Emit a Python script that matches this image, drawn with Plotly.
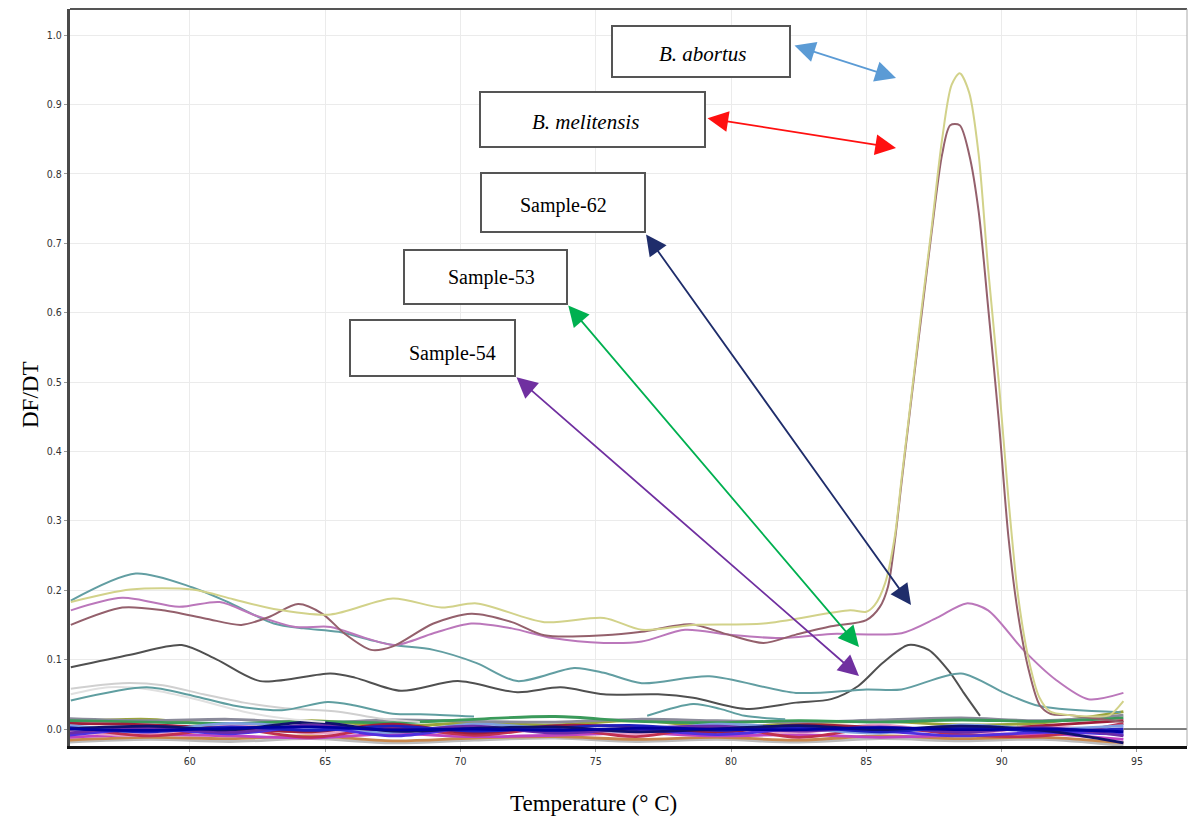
import plotly.graph_objects as go

# ---------------- data ----------------
abortus_t = [55.6, 57.8, 60.1, 61.6, 63.1, 65.2, 67.5, 69.3, 70.6, 73.1, 75.3, 76.7, 78.6, 81.2, 84.4, 85.0,
             85.3, 85.7, 86.05, 86.3, 86.55, 86.8, 87.05, 87.4, 87.8, 88.15, 88.45, 88.8, 89.15, 89.5, 89.9,
             90.25, 90.6, 91.0, 91.4, 91.8, 92.5, 93.5, 94.0, 94.5]
abortus_v = [0.183, 0.201, 0.201, 0.187, 0.173, 0.165, 0.188, 0.175, 0.181, 0.154, 0.160, 0.143, 0.150, 0.152, 0.171, 0.169,
             0.178, 0.211, 0.277, 0.360, 0.442, 0.525, 0.608, 0.718, 0.850, 0.928, 0.945, 0.917, 0.828, 0.663, 0.498,
             0.332, 0.194, 0.100, 0.045, 0.025, 0.020, 0.018, 0.020, 0.040]

meli_t = [55.6, 57.5, 59.0, 60.6, 61.9, 62.9, 64.0, 64.9, 65.7, 66.7, 67.5, 69.0, 70.4, 71.9, 73.1, 75.3, 76.7,
          78.5, 79.9, 81.2, 82.4, 83.7, 85.0, 85.5, 85.8, 86.05, 86.3, 86.55, 86.8, 87.05, 87.4, 87.8, 88.1,
          88.45, 88.8, 89.15, 89.5, 89.9, 90.25, 90.6, 91.0, 91.4, 91.8, 92.5, 93.5, 94.5]
meli_v = [0.150, 0.175, 0.171, 0.159, 0.150, 0.161, 0.180, 0.166, 0.138, 0.114, 0.119, 0.152, 0.166, 0.154, 0.135, 0.135, 0.140,
          0.151, 0.136, 0.124, 0.136, 0.148, 0.157, 0.176, 0.205, 0.270, 0.355, 0.438, 0.520, 0.600, 0.712, 0.828, 0.870,
          0.870, 0.828, 0.746, 0.608, 0.442, 0.277, 0.167, 0.085, 0.035, 0.022, 0.020, 0.015, 0.010]

s62_t = [55.6, 57.5, 59.6, 61.1, 62.4, 63.9, 65.2, 66.5, 67.6, 69.0, 70.4, 71.9, 73.4, 75.3, 76.7, 78.3, 79.9,
         81.8, 83.7, 86.3, 87.6, 88.7, 89.5, 90.8, 92.0, 93.2, 94.5]
s62_v = [0.171, 0.189, 0.176, 0.183, 0.164, 0.147, 0.147, 0.131, 0.121, 0.138, 0.152, 0.145, 0.131, 0.124, 0.126, 0.143, 0.136,
         0.131, 0.137, 0.138, 0.160, 0.181, 0.171, 0.114, 0.071, 0.043, 0.052]

teal_t = [55.6, 58.0, 60.1, 61.4, 63.1, 64.2, 65.5, 66.7, 67.5, 69.0, 70.6, 72.1, 74.2, 75.3, 76.7, 79.2, 82.4,
          85.0, 86.3, 88.5, 90.1, 91.4, 94.4]
teal_v = [0.185, 0.224, 0.204, 0.183, 0.152, 0.145, 0.140, 0.128, 0.121, 0.114, 0.095, 0.069, 0.088, 0.081, 0.066, 0.076, 0.052,
          0.057, 0.057, 0.080, 0.052, 0.033, 0.024]

dark_t = [55.6, 57.8, 59.7, 61.0, 62.6, 65.2, 66.1, 67.8, 69.9, 72.1, 73.7, 75.3, 77.3, 78.6, 80.5, 82.4, 83.7,
          84.7, 85.6, 86.55, 87.3, 88.1, 88.6, 89.2]
dark_v = [0.089, 0.107, 0.121, 0.100, 0.069, 0.080, 0.074, 0.055, 0.069, 0.053, 0.060, 0.050, 0.050, 0.045, 0.029, 0.038, 0.043,
          0.062, 0.095, 0.121, 0.114, 0.081, 0.052, 0.019]

teal2_t = [55.6, 58.4, 60.1, 61.6, 63.4, 65.1, 66.1, 67.5, 68.8, 70.5]
teal2_v = [0.041, 0.060, 0.048, 0.034, 0.027, 0.039, 0.034, 0.022, 0.021, 0.018]

teal3_t = [76.9, 78.6, 79.6, 80.5, 82.0]
teal3_v = [0.019, 0.036, 0.029, 0.019, 0.014]

lgray1_t = [55.6, 57.5, 59.0, 60.5, 62.0, 63.5, 65.5, 67.0, 68.5]
lgray1_v = [0.058, 0.066, 0.063, 0.050, 0.038, 0.030, 0.025, 0.015, 0.010]
lgray2_t = [55.6, 57.0, 58.5, 60.0, 62.0, 63.5, 65.0]
lgray2_v = [0.050, 0.060, 0.057, 0.045, 0.025, 0.015, 0.010]

noise_t = [55.5, 58.5, 61.5, 64.5, 67.5, 70.5, 73.5, 76.5, 79.5, 82.5, 85.5, 88.5, 91.5, 94.5]
noise_series = {
    "#bbbbbb": [-0.019, -0.015, -0.018, -0.014, -0.020, -0.016, -0.013, -0.018, -0.015, -0.019, -0.014, -0.017, -0.015, -0.024],
    "#c8864a": [-0.016, -0.012, -0.014, -0.010, -0.017, -0.013, -0.011, -0.015, -0.012, -0.016, -0.010, -0.014, -0.012, -0.020],
    "#c044c0": [-0.012, -0.008, -0.010, -0.013, -0.007, -0.011, -0.009, -0.006, -0.010, -0.008, -0.012, -0.009, -0.007, -0.015],
    "#9aa43a": [0.010, 0.014, 0.005, 0.012, 0.004, 0.009, 0.006, 0.012, 0.003, 0.008, 0.011, 0.006, 0.009, 0.025],
    "#8a8a9a": [0.015, 0.012, 0.014, 0.009, 0.013, 0.011, 0.010, 0.014, 0.012, 0.010, 0.013, 0.016, 0.012, 0.020],
    "#3a9a5a": [0.012, 0.010, 0.008, 0.011, 0.009, 0.014, 0.018, 0.011, 0.009, 0.012, 0.010, 0.013, 0.011, 0.016],
    "#e8a0c8": [-0.003, -0.009, 0.006, -0.006, 0.000, -0.008, 0.004, -0.007, 0.002, -0.005, 0.006, -0.007, 0.003, -0.004],
    "#c03050": [0.004, -0.010, 0.000, -0.012, 0.002, -0.009, 0.001, -0.011, 0.004, -0.012, 0.002, -0.008, -0.010, 0.008],
    "#9e1f3a": [0.008, 0.006, 0.001, -0.004, 0.007, -0.006, 0.005, 0.003, -0.005, 0.006, 0.002, -0.003, 0.005, 0.012],
    "#7f9fdf": [0.005, -0.002, 0.008, 0.002, -0.005, 0.007, 0.000, -0.003, 0.007, 0.001, -0.006, 0.006, 0.000, 0.005],
    "#5030e0": [-0.009, 0.000, -0.007, 0.003, -0.010, 0.002, -0.004, -0.001, -0.008, 0.000, -0.003, -0.010, -0.005, -0.008],
    "#6a2ca8": [-0.006, 0.002, -0.005, 0.006, -0.002, 0.004, -0.006, 0.001, 0.004, -0.003, 0.003, -0.005, 0.002, -0.010],
    "#1f1fbf": [0.002, -0.004, 0.003, -0.002, 0.004, -0.003, 0.002, 0.005, -0.002, 0.003, -0.004, 0.002, -0.003, 0.000],
    "#10106e": [0.000, 0.004, -0.001, 0.010, -0.003, 0.001, 0.003, -0.004, 0.000, 0.005, -0.001, 0.004, -0.002, -0.020],
    "#0000a0": [0.000, -0.002, 0.001, 0.003, -0.001, 0.000, -0.002, 0.001, 0.000, -0.001, 0.002, -0.001, 0.000, -0.004],
}

baseline_t = [94.5, 96.85]
baseline_v = [0.0, 0.0]

x_ticks = [60, 65, 70, 75, 80, 85, 90, 95]
y_ticks = [0.0, 0.1, 0.2, 0.3, 0.4, 0.5, 0.6, 0.7, 0.8, 0.9, 1.0]

labels = ["B. abortus", "B. melitensis", "Sample-62", "Sample-53", "Sample-54"]

# ---------------- figure ----------------
# page body has an 8px default margin, so the figure is offset by (8, 8)
OFF = 8
W, H = 1198 - OFF, 823 - OFF
L, R, T, B = 70, 1187, 9, 746   # plot area in page pixels


def px(xp):
    return (xp - L) / (R - L)


def py(yp):
    return (B - yp) / (B - T)


fig = go.Figure()

for col, vals in noise_series.items():
    fig.add_trace(go.Scatter(x=noise_t, y=vals, mode="lines",
                             line=dict(color=col, width=2.8, shape="spline", smoothing=1.0),
                             hoverinfo="skip", showlegend=False))

curves = [
    (lgray1_t, lgray1_v, "#d0d0d0"),
    (lgray2_t, lgray2_v, "#e0e0e0"),
    (teal2_t, teal2_v, "#5f9ea0"),
    (teal3_t, teal3_v, "#5f9ea0"),
    (dark_t, dark_v, "#505050"),
    (teal_t, teal_v, "#629ea2"),
    (s62_t, s62_v, "#bb77bb"),
    (meli_t, meli_v, "#94606c"),
    (abortus_t, abortus_v, "#d2d28a"),
]
for xs, ys, col in curves:
    fig.add_trace(go.Scatter(x=xs, y=ys, mode="lines",
                             line=dict(color=col, width=2, shape="spline", smoothing=0.8),
                             hoverinfo="skip", showlegend=False))

fig.add_trace(go.Scatter(x=baseline_t, y=baseline_v, mode="lines",
                         line=dict(color="#555555", width=1.5), hoverinfo="skip", showlegend=False))

tickfont = dict(family="DejaVu Sans Condensed, DejaVu Sans", size=10.5, color="#333333")
fig.update_layout(
    width=W, height=H,
    margin=dict(l=L - OFF, r=(W + OFF) - R, t=T - OFF, b=(H + OFF) - B, pad=0),
    paper_bgcolor="white", plot_bgcolor="white",
    xaxis=dict(range=[55.57, 96.85], tickvals=x_ticks, ticktext=[str(v) for v in x_ticks],
               showgrid=True, gridcolor="#ebebeb", gridwidth=1, zeroline=False,
               showline=True, linecolor="#111111", linewidth=3,
               ticks="outside", ticklen=3, tickcolor="#999999", tickfont=tickfont),
    yaxis=dict(range=[-0.0245, 1.0375], tickvals=y_ticks, ticktext=["%.1f" % v for v in y_ticks],
               showgrid=True, gridcolor="#ebebeb", gridwidth=1, zeroline=False,
               showline=True, linecolor="#4a4a4a", linewidth=3,
               ticks="outside", ticklen=3, tickcolor="#999999", tickfont=tickfont),
    showlegend=False,
)

shapes = [
    dict(type="line", xref="paper", yref="paper", x0=0, x1=1, y0=1, y1=1, line=dict(color="#555555", width=2)),
    dict(type="line", xref="paper", yref="paper", x0=1, x1=1, y0=0, y1=1, line=dict(color="#aaaaaa", width=1)),
]
# annotation boxes (page pixel rectangles)
boxes = [(612, 26, 790, 77), (480, 92, 705, 147), (481, 173, 645, 232), (404, 250, 567, 304), (350, 320, 515, 376)]
for (x0, y0, x1, y1) in boxes:
    shapes.append(dict(type="rect", xref="paper", yref="paper", x0=px(x0), x1=px(x1), y0=py(y1), y1=py(y0),
                       line=dict(color="#555555", width=2), fillcolor="white", layer="above"))
fig.update_layout(shapes=shapes)

annotations = []
text_pos = [(703, 54), (585, 122), (563, 205), (491, 277), (452, 353)]
text_style = [True, True, False, False, False]
for lab, (tx, ty), it in zip(labels, text_pos, text_style):
    annotations.append(dict(xref="paper", yref="paper", x=px(tx), y=py(ty), text=("<i>%s</i>" % lab) if it else lab,
                            showarrow=False, xanchor="center", yanchor="middle",
                            font=dict(family="Liberation Serif", size=21 if it else 20, color="#000000")))

arrows = [  # (head x, head y, other head x, other head y, color)
    (896, 78, 793, 45, "#5b9bd5"),
    (896, 148, 706, 118, "#ff1010"),
    (911, 605, 645, 233, "#1f2d6b"),
    (859, 647, 567, 304, "#00b050"),
    (859, 676, 515, 376, "#7030a0"),
]
for hx, hy, tx, ty, col in arrows:
    annotations.append(dict(xref="paper", yref="paper", x=px(hx), y=py(hy), ax=tx - hx, ay=ty - hy,
                            axref="pixel", ayref="pixel", text="", showarrow=True,
                            arrowhead=2, startarrowhead=2, arrowside="end+start",
                            arrowsize=2.3, startarrowsize=2.3, arrowwidth=1.8, arrowcolor=col,
                            standoff=0, startstandoff=0))

annotations.append(dict(xref="paper", yref="paper", x=px(30), y=py(395), text="DF/DT", textangle=-90,
                        showarrow=False, xanchor="center", yanchor="middle",
                        font=dict(family="Liberation Serif", size=23, color="#000000")))
annotations.append(dict(xref="paper", yref="paper", x=px(593), y=py(803), text="Temperature (° C)",
                        showarrow=False, xanchor="center", yanchor="middle",
                        font=dict(family="Liberation Serif", size=23, color="#000000")))
fig.update_layout(annotations=annotations)

fig.write_html("out.html")
